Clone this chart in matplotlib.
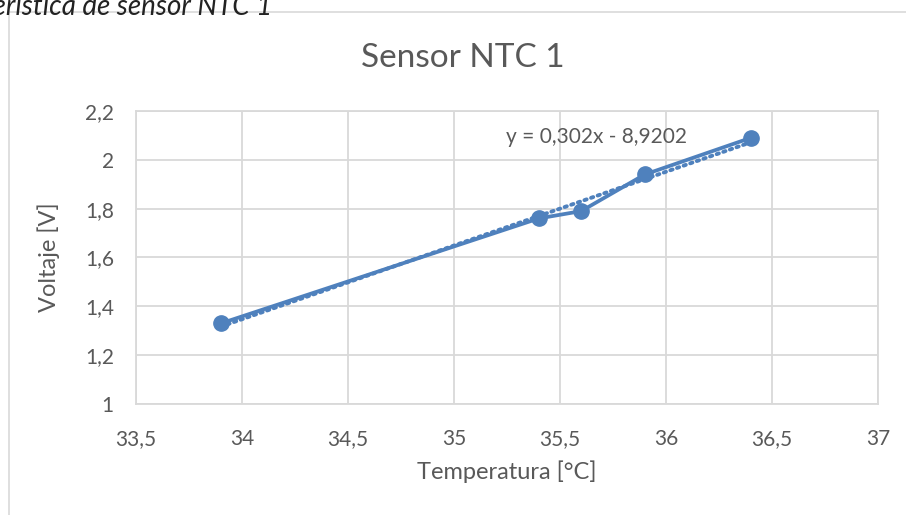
import numpy as np
import matplotlib
matplotlib.use("Agg")
import matplotlib.pyplot as plt
from matplotlib.patches import Rectangle
from matplotlib.ticker import FuncFormatter

# data
temp = [33.9, 35.4, 35.6, 35.9, 36.4]
volt = [1.33, 1.76, 1.79, 1.94, 2.09]
x_ticks = [33.5, 34, 34.5, 35, 35.5, 36, 36.5, 37]
y_ticks = [1, 1.2, 1.4, 1.6, 1.8, 2, 2.2]
eq_text = "y = 0,302x - 8,9202"

blue = "#4F81BD"
grid_c = "#D9D9D9"
txt_c = "#595959"

plt.rcParams['font.family'] = ['Lato', 'DejaVu Sans']

fig = plt.figure(figsize=(9.06, 5.15), dpi=100)
# chart frame (cut off at right / bottom)
fig.patches.append(Rectangle((9/906, -0.1), 1.1, 1 - 12/515 + 0.1, transform=fig.transFigure,
                             fill=False, edgecolor=grid_c, lw=1.2))
# caption above the chart, partly outside the page
fig.text(272/906, 1 - 15/515, "Característica de sensor NTC 1", ha='right', va='baseline',
         fontsize=20, style='italic', color='#222222')

ax = fig.add_axes([136/906, 1 - 404/515, (878 - 136)/906, (404 - 111)/515])

# linear trend line
k, b = np.polyfit(temp, volt, 1)
xt = np.array([temp[0], temp[-1]])
ax.plot(xt, k*xt + b, ls=(0, (0.6, 1.2)), color=blue, lw=2.8, dash_capstyle='round', zorder=3)
ax.plot(temp, volt, '-o', color=blue, lw=2.7, markersize=11, zorder=4)

ax.text(35.245, 2.094, eq_text, ha='left', va='center', fontsize=15, color=txt_c)

ax.set_xlim(33.5, 37)
ax.set_ylim(1, 2.2)
ax.set_xticks(x_ticks)
ax.set_yticks(y_ticks)
fmt = FuncFormatter(lambda v, p: ('%g' % v).replace('.', ','))
ax.xaxis.set_major_formatter(fmt)
ax.yaxis.set_major_formatter(fmt)
ax.grid(True, color=grid_c, lw=1.3)
ax.set_axisbelow(True)
for s in ax.spines.values():
    s.set_color(grid_c)
    s.set_linewidth(1.3)
ax.tick_params(length=0, labelsize=15, colors=txt_c)
ax.tick_params(axis='x', pad=18)
ax.tick_params(axis='y', pad=16)

ax.set_xlabel("Temperatura [°C]", fontsize=17, color=txt_c, labelpad=8)
ax.set_ylabel("Voltaje [V]", fontsize=17, color=txt_c, labelpad=18)
fig.text(463/906, 1 - 58/515, "Sensor NTC 1", ha='center', va='center', fontsize=24, color=txt_c)

fig.savefig("out.png", dpi=100)
